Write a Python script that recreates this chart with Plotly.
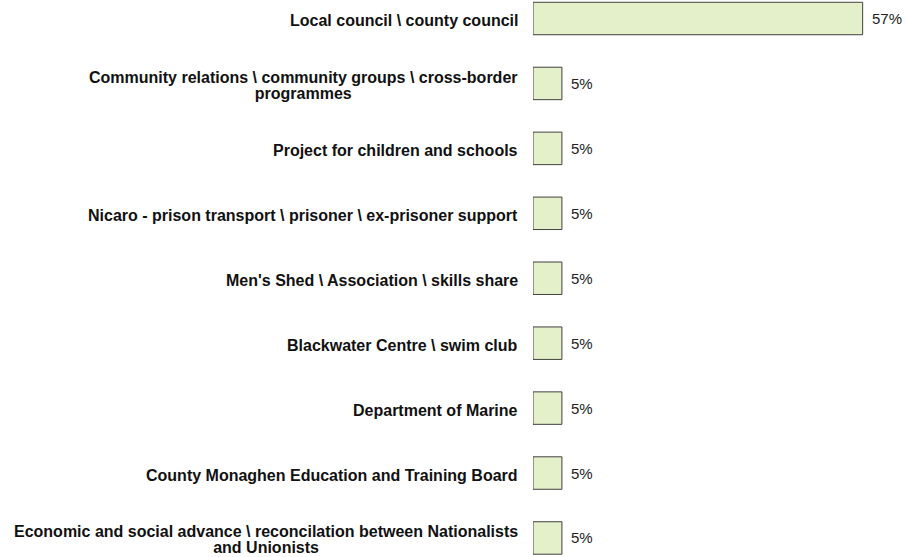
import plotly.graph_objects as go

categories = [
    "Local council \\ county council",
    "Community relations \\ community groups \\ cross-border<br>programmes",
    "Project for children and schools",
    "Nicaro - prison transport \\ prisoner \\ ex-prisoner support",
    "Men's Shed \\ Association \\ skills share",
    "Blackwater Centre \\ swim club",
    "Department of Marine",
    "County Monaghen Education and Training Board",
    "Economic and social advance \\ reconcilation between Nationalists<br>and Unionists",
]
values = [57, 5, 5, 5, 5, 5, 5, 5, 5]
labels = [f"{v}%" for v in values]

ypos = list(range(len(categories)))

fig = go.Figure(go.Bar(
    x=values, y=ypos, orientation="h",
    width=0.5,
    marker=dict(color="#E4F0C9", line=dict(color="#404040", width=1)),
    cliponaxis=False,
    hoverinfo="skip",
))

for i, (c, v, t) in enumerate(zip(categories, values, labels)):
    txt = "<br>".join(
        f"<span style='font-size:16px'><b>{seg}</b></span>" for seg in c.split("<br>")
    )
    fig.add_annotation(
        x=0, y=i, xref="x", yref="y", text=txt,
        xanchor="right", yanchor="middle", align="center", xshift=-13, yshift=-2,
        showarrow=False,
        font=dict(family="Liberation Sans, Arial", size=12.4, color="#111111"),
    )
    fig.add_annotation(
        x=v, y=i, xref="x", yref="y", text=t,
        xanchor="left", yanchor="middle", xshift=7,
        showarrow=False,
        font=dict(family="Liberation Sans, Arial", size=15, color="#222222"),
    )

fig.update_layout(
    width=907, height=557,
    margin=dict(l=533, r=27, t=0, b=0),
    plot_bgcolor="white", paper_bgcolor="white",
    showlegend=False,
    xaxis=dict(range=[0, 60], visible=False),
    yaxis=dict(range=[8.293, -0.285], visible=False),
)

fig.write_html("out.html", config={"displayModeBar": False},
               post_script="document.body.style.margin='0';")
